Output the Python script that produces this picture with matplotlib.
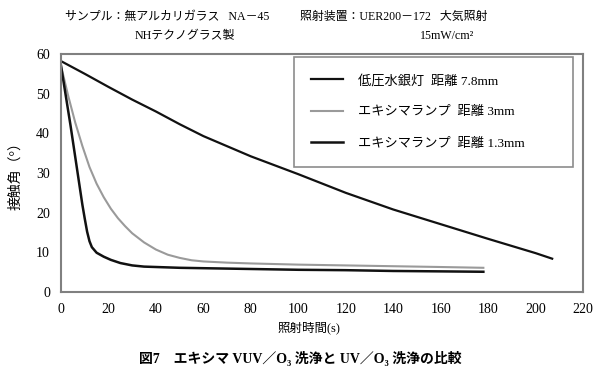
import matplotlib
matplotlib.use('Agg')
import matplotlib.pyplot as plt

plt.rcParams['font.family'] = ['Liberation Serif', 'Noto Sans CJK JP', 'DejaVu Sans']

# low pressure mercury lamp, 7.8mm
x_hg = [0, 10, 20, 30, 40, 50, 60, 80, 100, 120, 140, 160, 180, 200, 207]
y_hg = [58.2, 55.0, 51.7, 48.5, 45.5, 42.3, 39.3, 34.2, 29.7, 25.0, 20.8, 17.1, 13.4, 9.8, 8.4]

# excimer lamp, 3mm
x_ex3 = [0, 3, 6, 9, 12, 15, 18, 21, 24, 27, 30, 35, 40, 45, 50, 55, 60, 70, 80, 100, 120, 140, 160, 178]
y_ex3 = [57.0, 49.5, 42.7, 36.8, 31.5, 27.3, 23.9, 21.0, 18.6, 16.6, 14.8, 12.5, 10.7, 9.4, 8.6, 8.0,
         7.7, 7.4, 7.2, 6.9, 6.7, 6.5, 6.3, 6.1]

# excimer lamp, 1.3mm
x_ex13 = [0, 2, 4, 6, 8, 9, 10, 11, 12, 13, 15, 18, 21, 25, 30, 35, 40, 50, 60, 80, 100, 120, 140, 160, 178]
y_ex13 = [57.0, 49.5, 42.0, 34.0, 26.0, 22.0, 18.5, 15.2, 12.8, 11.3, 9.9, 8.9, 8.1, 7.3, 6.7, 6.4,
          6.3, 6.1, 6.0, 5.8, 5.6, 5.5, 5.3, 5.2, 5.1]

labels = ['低圧水銀灯  距離 7.8mm', 'エキシマランプ  距離 3mm', 'エキシマランプ  距離 1.3mm']
xticks = list(range(0, 221, 20))
yticks = list(range(0, 61, 10))

fig = plt.figure(figsize=(6, 3.81), dpi=100)
ax = fig.add_axes((0.1017, 0.2336, 0.87, 0.6247))

ax.plot(x_hg, y_hg, color='#111111', lw=1.6, label=labels[0])
ax.plot(x_ex3, y_ex3, color='#9a9a9a', lw=1.5, label=labels[1])
ax.plot(x_ex13, y_ex13, color='#111111', lw=1.8, label=labels[2])

ax.set_xlim(0, 220)
ax.set_ylim(0, 60)
ax.set_xticks(xticks)
ax.set_yticks(yticks)
ax.tick_params(length=0, labelsize=10)
ax.tick_params(axis='x', pad=8)
ax.tick_params(axis='y', pad=8)
for s in ax.spines.values():
    s.set_color('#808080')
    s.set_linewidth(1.5)

ax.set_xlabel('照射時間(s)', fontsize=9)
ax.xaxis.set_label_coords(0.475, -0.125)
ax.set_ylabel('接触角（°）', fontsize=10, labelpad=10)

leg = ax.legend(loc='upper left', bbox_to_anchor=(0.446, 0.529, 0.535, 0.458), mode='expand',
                fontsize=9.5, frameon=True, fancybox=False, borderpad=1.3, labelspacing=1.45,
                handlelength=2.4, handletextpad=1.2, borderaxespad=0)
leg.get_frame().set_edgecolor('#707070')
leg.get_frame().set_linewidth(1.2)

fig.text(0.108, 0.955, 'サンプル：無アルカリガラス   NA－45', fontsize=8.6, ha='left', va='center')
fig.text(0.225, 0.905, 'NHテクノグラス製', fontsize=8.6, ha='left', va='center')
fig.text(0.5, 0.955, '照射装置：UER200－172   大気照射', fontsize=8.6, ha='left', va='center')
fig.text(0.7, 0.905, '15mW/cm²', fontsize=8.6, ha='left', va='center')

fig.text(0.5, 0.06, '図7　エキシマ VUV／O₃ 洗浄と UV／O₃ 洗浄の比較', fontsize=10, ha='center',
         va='center', fontweight='bold')

fig.savefig('out.png', dpi=100)
